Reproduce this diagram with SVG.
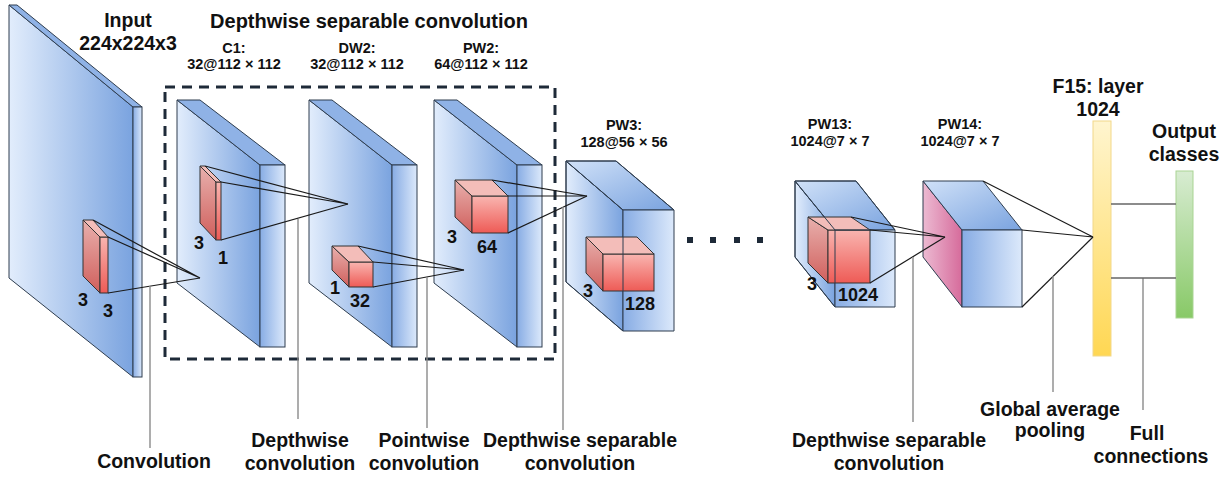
<svg xmlns="http://www.w3.org/2000/svg" width="1231" height="478" viewBox="0 0 1231 478">
  <defs>
    <linearGradient id="gFront" x1="0" y1="0" x2="1" y2="0">
      <stop offset="0" stop-color="#e2edfc"/>
      <stop offset="1" stop-color="#7aa3df"/>
    </linearGradient>
    <linearGradient id="gSide" x1="0" y1="0" x2="1" y2="0">
      <stop offset="0" stop-color="#87ace4"/>
      <stop offset="1" stop-color="#dce9fb"/>
    </linearGradient>
    <linearGradient id="gTop" x1="0" y1="0" x2="1" y2="1">
      <stop offset="0" stop-color="#d0e1f8"/>
      <stop offset="1" stop-color="#7aa3df"/>
    </linearGradient>
    <linearGradient id="gPink" x1="0" y1="0" x2="1" y2="0">
      <stop offset="0" stop-color="#ecbad2"/>
      <stop offset="1" stop-color="#d66b9b"/>
    </linearGradient>
    <linearGradient id="gRedSide" x1="0" y1="0" x2="0" y2="1">
      <stop offset="0" stop-color="#e8b0ad"/>
      <stop offset="1" stop-color="#d05f5c"/>
    </linearGradient>
    <linearGradient id="gRedFront" x1="0" y1="0" x2="0" y2="1">
      <stop offset="0" stop-color="#f9b5b0"/>
      <stop offset="1" stop-color="#ee5b56"/>
    </linearGradient>
    <linearGradient id="gYellow" x1="0" y1="0" x2="0" y2="1">
      <stop offset="0" stop-color="#fff5cf"/>
      <stop offset="1" stop-color="#ffd753"/>
    </linearGradient>
    <linearGradient id="gGreen" x1="0" y1="0" x2="0" y2="1">
      <stop offset="0" stop-color="#d8ecd2"/>
      <stop offset="1" stop-color="#88c967"/>
    </linearGradient>
  </defs>
  <style>
    .front { fill: url(#gFront); stroke: #2e3d4f; stroke-width: 1; }
    .side { fill: url(#gSide); stroke: #2e3d4f; stroke-width: 1; }
    .top { fill: url(#gTop); stroke: #2e3d4f; stroke-width: 1; }
    .strip { fill: #8fb2e6; stroke: #2e3d4f; stroke-width: 1; }
    .pink { fill: url(#gPink); stroke: #2e3d4f; stroke-width: 1; }
    .edge { fill: none; stroke: #2e3d4f; stroke-width: 1; }
    .rside { fill: url(#gRedSide); stroke: #333; stroke-width: 1; }
    .rfront { fill: url(#gRedFront); stroke: #333; stroke-width: 1; }
    .rtop { fill: #f3bdb9; stroke: #333; stroke-width: 1; }
    .cone { fill: none; stroke: #1a1a1a; stroke-width: 1.2; }
    .lead { fill: none; stroke: #8a8a8a; stroke-width: 1.4; }
    .fc { fill: none; stroke: #666; stroke-width: 1.4; }
    text { font-family: "Liberation Sans", Arial, sans-serif; font-weight: bold; fill: #111; text-anchor: middle; }
    .big { font-size: 20px; }
    .lbl { font-size: 19.5px; }
    .dim { font-size: 14.5px; }
    .num { font-size: 18px; }
  </style>

  <!-- dashed frame around the depthwise separable block -->
  <rect id="ds-frame" x="165" y="87" width="390" height="272" fill="none" stroke="#1e2a38" stroke-width="3" stroke-dasharray="10 7"/>

  <!-- input volume 224x224x3 -->
  <g id="input">
    <polygon class="front" points="9,5 133,107 133,377 9,278"/>
    <polygon class="strip" points="9,5 17,5 142,107 133,107"/>
    <rect class="side" x="133" y="107" width="9" height="270"/>
    <polygon class="rside" points="83,220 100,237 100,293 83,276"/>
    <rect class="rfront" x="100" y="237" width="8" height="56"/>
    <polygon class="rtop" points="83,220 93,220 108,237 100,237"/>
    <text class="lbl" x="128" y="27">Input</text>
    <text class="lbl" x="128" y="50">224x224x3</text>
    <text class="num" x="83" y="306">3</text>
    <text class="num" x="108" y="317">3</text>
  </g>

  <!-- C1 -->
  <g id="c1">
    <polygon class="front" points="177,100 260,165 260,347 177,283"/>
    <polygon class="strip" points="177,100 200,100 285,165 260,165"/>
    <rect class="side" x="260" y="165" width="25" height="182"/>
    <polygon class="rside" points="200,166 216,182 216,240 200,223"/>
    <rect class="rfront" x="216" y="182" width="5" height="58"/>
    <polygon class="rtop" points="200,166 205,166 221,182 216,182"/>
    <text class="dim" x="234" y="53">C1:</text>
    <text class="dim" x="234" y="69">32@112 × 112</text>
    <text class="num" x="199" y="249">3</text>
    <text class="num" x="223" y="264">1</text>
  </g>

  <!-- DW2 -->
  <g id="dw2">
    <polygon class="front" points="309,100 392,165 392,347 309,283"/>
    <polygon class="strip" points="309,100 332,100 417,165 392,165"/>
    <rect class="side" x="392" y="165" width="25" height="182"/>
    <polygon class="rside" points="332,246 349,262 349,287 332,270"/>
    <rect class="rfront" x="349" y="262" width="24" height="25"/>
    <polygon class="rtop" points="332,246 358,246 373,262 349,262"/>
    <text class="dim" x="357" y="53">DW2:</text>
    <text class="dim" x="357" y="69">32@112 × 112</text>
    <text class="num" x="335" y="294">1</text>
    <text class="num" x="360" y="307">32</text>
  </g>

  <!-- PW2 -->
  <g id="pw2">
    <polygon class="front" points="434,100 517,165 517,347 434,283"/>
    <polygon class="strip" points="434,100 457,100 542,165 517,165"/>
    <rect class="side" x="517" y="165" width="25" height="182"/>
    <polygon class="rside" points="455,180 472,196 472,233 455,217"/>
    <rect class="rfront" x="472" y="196" width="36" height="37"/>
    <polygon class="rtop" points="455,180 492,180 508,196 472,196"/>
    <text class="dim" x="481" y="53">PW2:</text>
    <text class="dim" x="481" y="69">64@112 × 112</text>
    <text class="num" x="452" y="243">3</text>
    <text class="num" x="487" y="253">64</text>
  </g>

  <!-- PW3 -->
  <g id="pw3">
    <polygon class="front" points="566,161 623,210 623,331 566,282"/>
    <polygon class="top" points="566,161 616,161 674,210 623,210"/>
    <rect x="623" y="210" width="51" height="121" fill="url(#gSide)"/>
    <polygon class="rside" points="586,237 603,254 603,291 586,273"/>
    <rect class="rfront" x="603" y="254" width="51" height="37"/>
    <polygon class="rtop" points="586,237 637,237 654,254 603,254"/>
    <polyline class="edge" points="566,161 566,282 623,331 674,331 674,210 616,161 566,161"/>
    <polyline class="edge" points="566,161 623,210 674,210"/>
    <line class="edge" x1="623" y1="210" x2="623" y2="331"/>
    <text class="dim" x="624" y="130">PW3:</text>
    <text class="dim" x="624" y="147">128@56 × 56</text>
    <text class="num" x="588" y="297">3</text>
    <text class="num" x="640" y="310">128</text>
  </g>

  <!-- ellipsis between stages -->
  <g id="ellipsis" fill="#1e2a38">
    <rect x="687" y="237" width="6" height="6"/>
    <rect x="710" y="237" width="6" height="6"/>
    <rect x="734" y="237" width="6" height="6"/>
    <rect x="757" y="237" width="6" height="6"/>
  </g>

  <!-- PW13 -->
  <g id="pw13">
    <polygon class="front" points="795,181 835,230 835,307 795,257"/>
    <polygon class="top" points="795,181 856,181 895,230 835,230"/>
    <rect x="835" y="230" width="60" height="77" fill="url(#gSide)"/>
    <polygon class="rside" points="808,217 828,230 828,283 808,263"/>
    <rect class="rfront" x="828" y="230" width="42" height="53"/>
    <polygon class="rtop" points="808,217 851,217 870,230 828,230"/>
    <polyline class="edge" points="795,181 795,257 835,307 895,307 895,230 856,181 795,181"/>
    <polyline class="edge" points="795,181 835,230 895,230"/>
    <line class="edge" x1="835" y1="230" x2="835" y2="307"/>
    <text class="dim" x="830" y="129">PW13:</text>
    <text class="dim" x="830" y="146">1024@7 × 7</text>
    <text class="num" x="812" y="290">3</text>
    <text class="num" x="858" y="301">1024</text>
  </g>

  <!-- PW14 -->
  <g id="pw14">
    <polygon class="pink" points="923,181 962,230 962,307 923,257"/>
    <polygon class="top" points="923,181 983,181 1022,230 962,230"/>
    <rect class="front" x="962" y="230" width="60" height="77" style="fill:url(#gSide)"/>
    <text class="dim" x="960" y="129">PW14:</text>
    <text class="dim" x="960" y="146">1024@7 × 7</text>
  </g>

  <!-- F15 fully connected layer -->
  <g id="f15">
    <rect x="1093" y="121" width="18" height="235" fill="url(#gYellow)" stroke="#f2d88a" stroke-width="1"/>
    <text class="lbl" x="1098" y="93">F15: layer</text>
    <text class="lbl" x="1098" y="116">1024</text>
  </g>

  <!-- output classes -->
  <g id="output">
    <rect x="1176" y="171" width="17" height="147" fill="url(#gGreen)" stroke="#a9d493" stroke-width="1"/>
    <text class="lbl" x="1184" y="138">Output</text>
    <text class="lbl" x="1184" y="161">classes</text>
  </g>

  <!-- receptive-field cones, leader lines and dense connections -->
  <g id="connectors">
    <polyline class="cone" points="93,220 200,278 108,237"/>
    <polyline class="cone" points="200,278 108,293"/>
    <polyline class="cone" points="205,166 348,204 221,182"/>
    <polyline class="cone" points="348,204 221,240"/>
    <polyline class="cone" points="358,246 464,270 373,262"/>
    <polyline class="cone" points="464,270 373,287"/>
    <polyline class="cone" points="492,180 587,196 508,196"/>
    <polyline class="cone" points="587,196 508,233"/>
    <polyline class="cone" points="851,217 945,237 870,230"/>
    <polyline class="cone" points="945,237 870,283"/>
    <polyline class="cone" points="983,181 1093,237 1022,230"/>
    <polyline class="cone" points="1093,237 1022,307"/>

    <line class="lead" x1="150" y1="286" x2="150" y2="448"/>
    <line class="lead" x1="298" y1="219" x2="298" y2="419"/>
    <line class="lead" x1="427" y1="277" x2="427" y2="428"/>
    <line class="lead" x1="563" y1="207" x2="563" y2="430"/>
    <line class="lead" x1="913" y1="257" x2="913" y2="422"/>
    <line class="lead" x1="1053" y1="276" x2="1053" y2="392"/>
    <line class="lead" x1="1143" y1="278" x2="1143" y2="410"/>

    <line class="fc" x1="1111" y1="204" x2="1176" y2="204"/>
    <line class="fc" x1="1111" y1="278" x2="1176" y2="278"/>
  </g>

  <!-- captions -->
  <g id="captions">
    <text class="big" x="369" y="28">Depthwise separable convolution</text>
    <text class="lbl" x="154" y="468">Convolution</text>
    <text class="lbl" x="300" y="447">Depthwise</text>
    <text class="lbl" x="300" y="470">convolution</text>
    <text class="lbl" x="424" y="447">Pointwise</text>
    <text class="lbl" x="424" y="470">convolution</text>
    <text class="lbl" x="580" y="447">Depthwise separable</text>
    <text class="lbl" x="580" y="470">convolution</text>
    <text class="lbl" x="889" y="447">Depthwise separable</text>
    <text class="lbl" x="889" y="470">convolution</text>
    <text class="lbl" x="1050" y="416">Global average</text>
    <text class="lbl" x="1050" y="437">pooling</text>
    <text class="lbl" x="1147" y="440">Full</text>
    <text class="lbl" x="1151" y="463">connections</text>
  </g>
</svg>
